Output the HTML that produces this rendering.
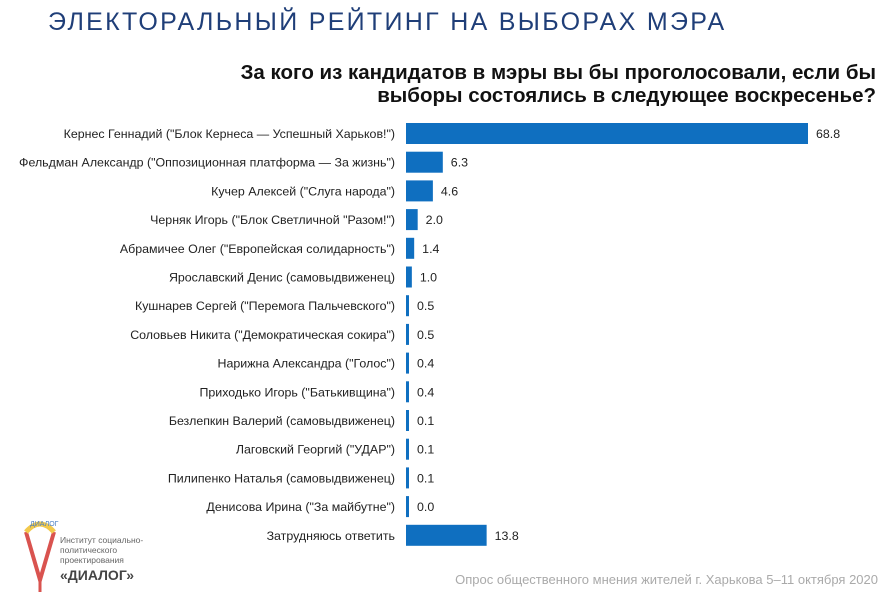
<!DOCTYPE html>
<html><head><meta charset="utf-8">
<style>
body{margin:0;background:#fff;width:896px;height:598px;overflow:hidden;font-family:"Liberation Sans","DejaVu Sans",sans-serif;}
svg text{font-family:"Liberation Sans","DejaVu Sans",sans-serif;}
</style></head>
<body>
<svg id="chart" width="896" height="598" xmlns="http://www.w3.org/2000/svg">
<text x="48" y="30" font-size="25" fill="#1f3e78" letter-spacing="2.3">ЭЛЕКТОРАЛЬНЫЙ РЕЙТИНГ НА ВЫБОРАХ МЭРА</text>
<text x="876" y="79" font-size="20.5" font-weight="bold" fill="#111" text-anchor="end">За кого из кандидатов в мэры вы бы проголосовали, если бы</text>
<text x="876" y="102" font-size="20.5" font-weight="bold" fill="#111" text-anchor="end">выборы состоялись в следующее воскресенье?</text>
<g id="bars"></g>
<g>
<path d="M26 532 L40 580 L54 532" fill="none" stroke="#d9534f" stroke-width="4"/>
<path d="M26 532 Q40 516 54 532" fill="none" stroke="#f2c94c" stroke-width="5"/>
<line x1="40" y1="580" x2="40" y2="592" stroke="#d9534f" stroke-width="3"/>
<text x="30" y="526" font-size="7" fill="#4a7fc1">ДИАЛОГ</text>
<text x="60" y="543" font-size="8.5" fill="#666">Институт социально-</text>
<text x="60" y="553" font-size="8.5" fill="#666">политического</text>
<text x="60" y="563" font-size="8.5" fill="#666">проектирования</text>
<text x="60" y="580" font-size="14" font-weight="bold" fill="#444">«ДИАЛОГ»</text>
</g>
<text x="878" y="584" font-size="13" fill="#aaa" text-anchor="end">Опрос общественного мнения жителей г. Харькова 5–11 октября 2020</text>
</svg>
<script>
const categories=["Кернес Геннадий (\"Блок Кернеса — Успешный Харьков!\")","Фельдман Александр (\"Оппозиционная платформа — За жизнь\")","Кучер Алексей (\"Слуга народа\")","Черняк Игорь (\"Блок Светличной \"Разом!\")","Абрамичее Олег (\"Европейская солидарность\")","Ярославский Денис (самовыдвиженец)","Кушнарев Сергей (\"Перемога Пальчевского\")","Соловьев Никита (\"Демократическая сокира\")","Нарижна Александра (\"Голос\")","Приходько Игорь (\"Батькивщина\")","Безлепкин Валерий (самовыдвиженец)","Лаговский Георгий (\"УДАР\")","Пилипенко Наталья (самовыдвиженец)","Денисова Ирина (\"За майбутне\")","Затрудняюсь ответить"];
const values=[68.8,6.3,4.6,2.0,1.4,1.0,0.5,0.5,0.4,0.4,0.1,0.1,0.1,0.0,13.8];
const valueLabels=["68.8","6.3","4.6","2.0","1.4","1.0","0.5","0.5","0.4","0.4","0.1","0.1","0.1","0.0","13.8"];
const NS="http://www.w3.org/2000/svg";
const x0=406, pxPer=402/68.8, y0=133.5, step=28.7, bh=21;
const xs=v=>Math.max(3,v*pxPer);
const ys=i=>y0+i*step;
const g=document.getElementById('bars');
categories.forEach((c,i)=>{
  const y=ys(i);
  const t=document.createElementNS(NS,'text');
  
  
  t.setAttribute('x',395);t.setAttribute('y',y+4.5);t.setAttribute('text-anchor','end');
  t.setAttribute('font-size','12.4');t.setAttribute('fill','#222');t.textContent=c;g.appendChild(t);
  const r=document.createElementNS(NS,'rect');
  
  
  r.setAttribute('x',x0);r.setAttribute('y',y-bh/2);r.setAttribute('width',xs(values[i]));r.setAttribute('height',bh);
  r.setAttribute('fill','#0f6fc0');g.appendChild(r);
  const v=document.createElementNS(NS,'text');
  
  
  v.setAttribute('x',x0+xs(values[i])+8);v.setAttribute('y',y+4.5);
  v.setAttribute('font-size','12.4');v.setAttribute('fill','#222');v.textContent=valueLabels[i];g.appendChild(v);
});
</script>
</body></html>
